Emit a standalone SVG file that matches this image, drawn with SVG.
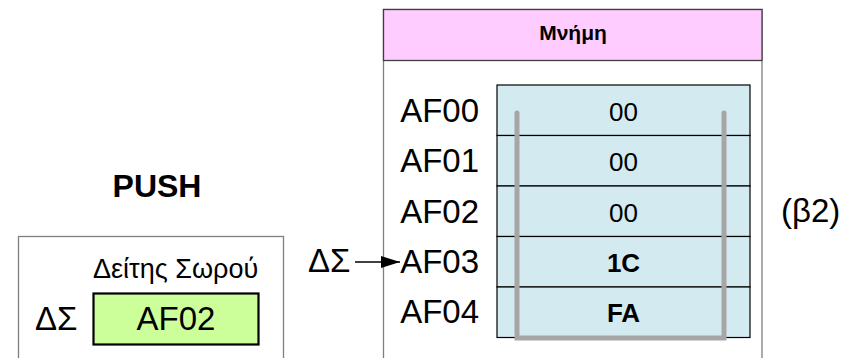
<svg xmlns="http://www.w3.org/2000/svg" width="856" height="358" viewBox="0 0 856 358">
<style>
text{font-family:"Liberation Sans",Arial,sans-serif;fill:#000}
.lbl{font-size:33px}
.addr{font-size:33px;text-anchor:end}
.val{font-size:26px;text-anchor:middle}
.b{font-weight:bold}
.frame{fill:#fff;stroke:#7f7f7f;stroke-width:1.3}
.cell{fill:#d3eaf0;stroke:#000;stroke-width:1.2}
</style>
<defs>
<marker id="ah" markerWidth="20" markerHeight="12" refX="19" refY="6" orient="auto" markerUnits="userSpaceOnUse">
<path d="M0,0 L19,6 L0,12 Z" fill="#000"/>
</marker>
</defs>
<g id="memory">
<rect class="frame" x="383.5" y="9.5" width="378.5" height="400"/>
<rect x="383.5" y="9.5" width="378.5" height="51" fill="#ffccff" stroke="#404040" stroke-width="1.3"/>
<text x="573" y="40" class="b" font-size="21" text-anchor="middle">Μνήμη</text>
</g>
<g id="cell-AF00">
<rect class="cell" x="497" y="85" width="253" height="50.5"/>
<text class="addr" x="479" y="121.5">AF00</text>
<text class="val" x="623.5" y="120.5">00</text>
</g>
<g id="cell-AF01">
<rect class="cell" x="497" y="135.5" width="253" height="50.5"/>
<text class="addr" x="479" y="172">AF01</text>
<text class="val" x="623.5" y="171">00</text>
</g>
<g id="cell-AF02">
<rect class="cell" x="497" y="186" width="253" height="50.5"/>
<text class="addr" x="479" y="222.5">AF02</text>
<text class="val" x="623.5" y="221.5">00</text>
</g>
<g id="cell-AF03">
<rect class="cell" x="497" y="236.5" width="253" height="50.5"/>
<text class="addr" x="479" y="272.5">AF03</text>
<text class="val b" x="623.5" y="271.5">1C</text>
</g>
<g id="cell-AF04">
<rect class="cell" x="497" y="287" width="253" height="50.5"/>
<text class="addr" x="479" y="322.5">AF04</text>
<text class="val b" x="623.5" y="321.5">FA</text>
</g>
<g id="stack-bracket">
<path d="M517,113 V338 H724 V113" fill="none" stroke="#a6a6a6" stroke-width="5" stroke-linecap="round" stroke-linejoin="miter"/>
</g>
<g id="push-title">
<text x="157" y="197" class="b" font-size="32" text-anchor="middle">PUSH</text>
</g>
<g id="stack-pointer">
<rect class="frame" x="18.5" y="236.5" width="265" height="200"/>
<text x="93" y="277.5" font-size="27">Δείτης Σωρού</text>
<text class="lbl" x="35" y="330">ΔΣ</text>
<rect x="93.5" y="293.5" width="165" height="51" fill="#ccff99" stroke="#000" stroke-width="2.2"/>
<text class="lbl" x="176" y="330" text-anchor="middle">AF02</text>
</g>
<g id="sp-label">
<text class="lbl" x="308" y="272">ΔΣ</text>
</g>
<g id="connectors">
<line x1="355" y1="262" x2="400" y2="262" stroke="#000" stroke-width="1.5" marker-end="url(#ah)"/>
</g>
<g id="figure-label">
<text class="lbl" x="781" y="222" font-size="35">(β2)</text>
</g>
</svg>
